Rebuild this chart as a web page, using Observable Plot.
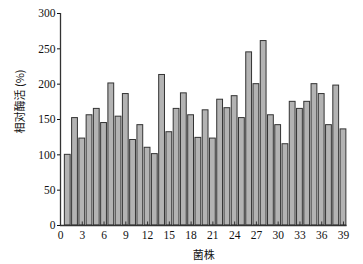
<!DOCTYPE html>
<html>
<head>
<meta charset="utf-8">
<script src="https://cdn.jsdelivr.net/npm/d3@7"></script>
<script src="https://cdn.jsdelivr.net/npm/@observablehq/plot@0.6"></script>
<style>
  html, body { margin: 0; padding: 0; background: #fff; }
  #chart svg { display: block; }
</style>
</head>
<body>
<div id="chart"></div>
<script>
const strains = d3.range(1, 40);
const activity = [100, 152, 123, 156, 165, 145, 201, 154, 186, 121,
                  142, 110, 101, 213, 132, 165, 187, 156, 124, 163,
                  123, 178, 166, 183, 152, 245, 200, 261, 156, 142,
                  115, 175, 165, 175, 200, 186, 142, 198, 136];
const xTicks = d3.range(0, 40, 3);
const yTicks = [0, 50, 100, 150, 200, 250, 300];
const xLabel = "菌株";
const yLabel = "相对酶活 (%)";

const data = strains.map((s, i) => ({strain: s, value: activity[i]}));

const serif = "'Liberation Serif', 'DejaVu Serif', serif";
const cjk = "'Noto Sans CJK SC', sans-serif";

const chart = Plot.plot({
  width: 363,
  height: 264,
  marginLeft: 60,
  marginRight: 16.4,
  marginTop: 13,
  marginBottom: 39,
  style: {fontFamily: serif, fontSize: "11.5px", color: "#111", background: "#fff"},
  x: {domain: [0, 39.5]},
  y: {domain: [0, 300]},
  marks: [
    Plot.rectY(data, {
      x1: d => d.strain - 0.4,
      x2: d => d.strain + 0.4,
      y: "value",
      fill: "#b3b3b3",
      stroke: "#333",
      strokeWidth: 1
    }),
    Plot.ruleX(xTicks, {x: d => d, y1: 0, y2: 5, stroke: "#333"}),
    Plot.ruleX([0], {stroke: "#333", strokeWidth: 1.3}),
    Plot.ruleY([0], {stroke: "#333", strokeWidth: 1.3}),
    Plot.axisX({ticks: xTicks, tickSize: 0, tickPadding: 5, label: null, fontFamily: serif, fontSize: 11.5}),
    Plot.axisY({ticks: yTicks, tickSize: 3, tickPadding: 2, label: null, fontFamily: serif, fontSize: 11.5}),
    Plot.text([xLabel], {frameAnchor: "bottom", dy: 30, lineAnchor: "middle", fontFamily: cjk, fontSize: 11, fill: "#111"}),
    Plot.text([yLabel], {frameAnchor: "left", textAnchor: "middle", rotate: -90, dx: -40, dy: -18, fontFamily: cjk, fontSize: 11, fill: "#111"})
  ]
});
document.getElementById("chart").appendChild(chart);
</script>
</body>
</html>
